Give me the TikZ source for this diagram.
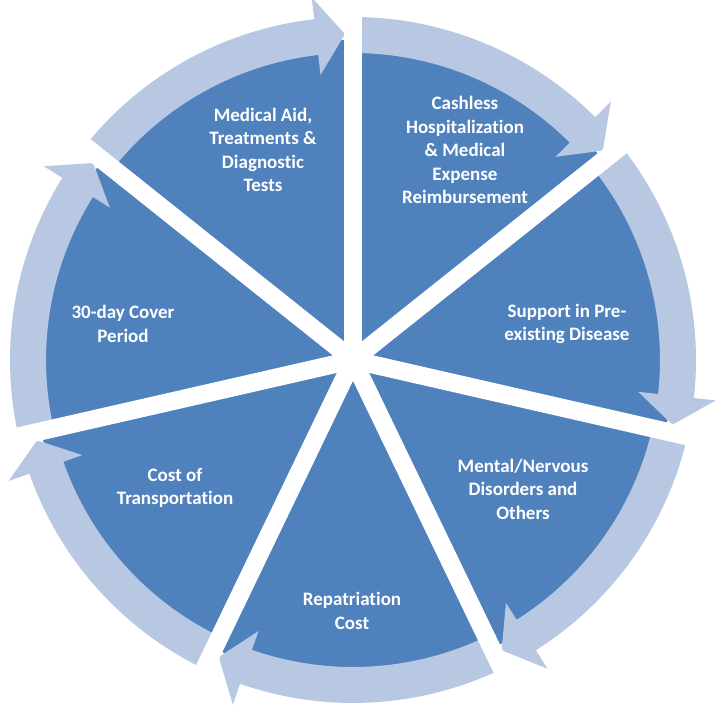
\documentclass[tikz,border=0pt]{standalone}
\usepackage{fontspec}
\setmainfont{Carlito}[Ligatures=NoCommon]
\usepackage{tikz}

\definecolor{segblue}{RGB}{79,129,189}
\definecolor{bandblue}{RGB}{184,200,226}

\tikzset{
  seg/.style={fill=segblue},
  band/.style={fill=bandblue},
  spoke/.style={draw=white,line width=18pt},
  lbl/.style={text=white,align=center,inner sep=0pt,
    font=\fontsize{19}{23.5}\selectfont\bfseries}
}

\begin{document}
\begin{tikzpicture}[x=1pt,y=1pt]
    \useasboundingbox (-353,-348) rectangle (367,360);
    \coordinate (c) at (0,0);
    % Pie
    \fill[seg] (c) circle[radius=320pt];
    % Circular arrows, one per segment (clockwise)
    \foreach \a in {141.43,90,38.57,-12.86,-64.29,-115.71,-167.14} {
      \pgfmathsetmacro\b{\a-51.43+6.5}
      \pgfmathsetmacro\t{\a-51.43+1.4}
      \fill[band] (\a:307pt) arc[start angle=\a, end angle=\b, radius=307pt]
        -- (\b:287pt) -- (\t:326pt) -- (\b:365pt) -- (\b:343pt)
        arc[start angle=\b, end angle=\a, radius=343pt] -- cycle;
    }
    % Gaps between segments
    \foreach \a in {141.43,90,38.57,-12.86,-64.29,-115.71,-167.14}
      \draw[spoke] (c) -- (\a:380pt);
    % Labels
    \node[lbl] (aid) at (-90,210) {Medical Aid,\\Treatments \&\\Diagnostic\\Tests};
    \node[lbl] (cash) at (112,210) {Cashless\\Hospitalization\\\& Medical\\Expense\\Reimbursement};
    \node[lbl] (pre) at (214,36) {Support in Pre-\\existing Disease};
    \node[lbl] (mental) at (170,-129) {Mental/Nervous\\Disorders and\\Others};
    \node[lbl] (repat) at (-1,-251) {Repatriation\\Cost};
    \node[lbl] (transp) at (-178,-128) {Cost of\\Transportation};
    \node[lbl] (cover) at (-230,36) {30-day Cover\\Period};
\end{tikzpicture}
\end{document}
